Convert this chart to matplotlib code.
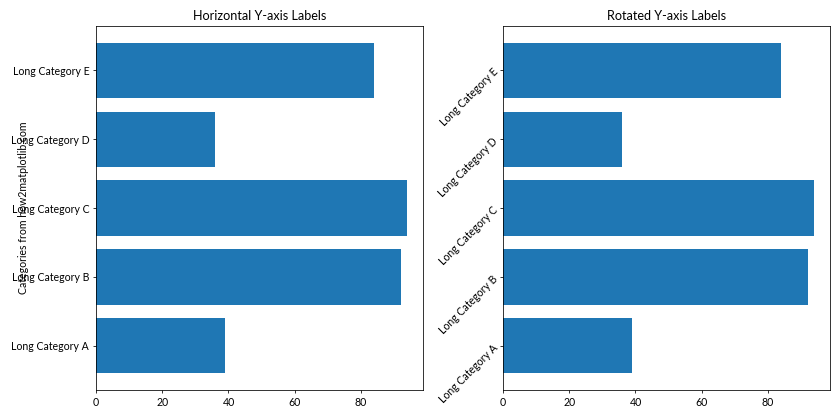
import matplotlib.pyplot as plt

plt.rcParams['font.family'] = ['Lato', 'DejaVu Sans']
plt.rcParams['font.size'] = 10.8

# Datos
categorias = ['Long Category A', 'Long Category B', 'Long Category C',
              'Long Category D', 'Long Category E']
valores = [39, 92, 94, 36, 84]

fig, (ax1, ax2) = plt.subplots(1, 2, figsize=(12, 6), dpi=70)
fig.subplots_adjust(left=0.1143, right=0.988, bottom=0.0714, top=0.938, wspace=0.245)

# Panel izquierdo: etiquetas horizontales
ax1.barh(categorias, valores, color='#1f77b4')
ax1.set_title('Horizontal Y-axis Labels')
ax1.set_ylabel('Categories from how2matplotlib.com')
ax1.yaxis.set_label_coords(-0.205, 0.5)

# Panel derecho: etiquetas rotadas
ax2.barh(categorias, valores, color='#1f77b4')
ax2.set_title('Rotated Y-axis Labels')
for lbl in ax2.get_yticklabels():
    lbl.set_rotation(45)
    lbl.set_rotation_mode('anchor')
    lbl.set_ha('right')
    lbl.set_va('center')

fig.savefig('out.png', dpi=70)
